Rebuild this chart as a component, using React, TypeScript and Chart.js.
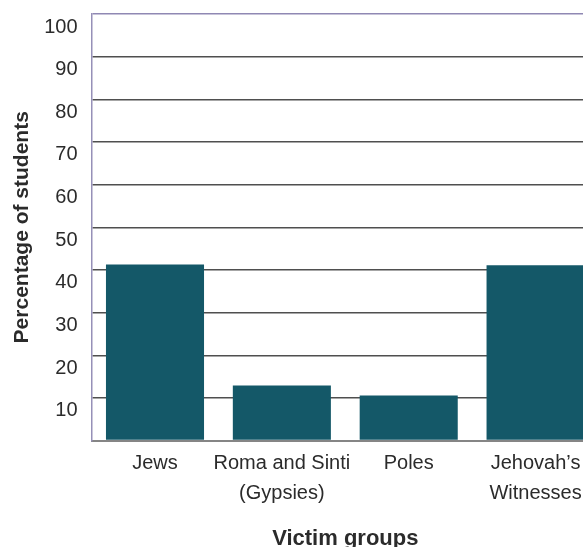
import React, { useEffect, useRef } from "react";
import { Chart, registerables } from "chart.js";

Chart.register(...registerables);

const categories: (string | string[])[] = [
  "Jews",
  ["Roma and Sinti", "(Gypsies)"],
  "Poles",
  ["Jehovah\u2019s", "Witnesses"],
];
const percentages: number[] = [41.3, 12.9, 10.6, 41.1];
const yTickMin = 0;
const yTickMax = 100;
const yTickStep = 10;

const BAR_COLOR = "#145868";
const TEXT_COLOR = "#2b2b2b";
const FONT = "'Liberation Sans', Arial, Helvetica, sans-serif";

export default function App() {
  const ref = useRef<HTMLCanvasElement | null>(null);

  useEffect(() => {
    if (!ref.current) return;
    const chart = new Chart(ref.current, {
      type: "bar",
      data: {
        labels: categories,
        datasets: [
          {
            data: percentages,
            backgroundColor: BAR_COLOR,
            borderWidth: 0,
            barPercentage: 0.773,
            categoryPercentage: 1,
          },
        ],
      },
      options: {
        responsive: false,
        animation: false,
        devicePixelRatio: 1,
        layout: { padding: { top: 14, left: 3, right: 0, bottom: 0 } },
        plugins: {
          legend: { display: false },
          tooltip: { enabled: false },
        },
        scales: {
          x: {
            grid: { display: false, drawTicks: false },
            border: { display: true, color: "#858585", width: 2 },
            ticks: {
              color: TEXT_COLOR,
              padding: 8,
              maxRotation: 0,
              autoSkip: false,
              font: { family: FONT, size: 20, lineHeight: 30 / 20 },
            },
            title: {
              display: true,
              text: "Victim groups",
              color: TEXT_COLOR,
              font: { family: FONT, size: 22, weight: "bold" },
              padding: { top: 9, bottom: 4 },
            },
          },
          y: {
            min: yTickMin,
            max: yTickMax,
            grid: {
              drawTicks: true,
              tickLength: 11,
              tickColor: "rgba(0,0,0,0)",
              lineWidth: 1.5,
              color: (ctx: any) => {
                const v = ctx.tick ? ctx.tick.value : null;
                if (v === 100) return "#8f88b3";
                if (v === 0) return "#858585";
                return "#4f4f4f";
              },
            },
            border: { display: true, color: "#9690b8", width: 1.5 },
            ticks: {
              stepSize: yTickStep,
              color: TEXT_COLOR,
              padding: 3,
              labelOffset: 13,
              font: { family: FONT, size: 20, lineHeight: 1 },
              callback: (v: any) => (v === 0 ? "" : String(v)),
            },
            title: {
              display: true,
              text: "Percentage of students",
              color: TEXT_COLOR,
              font: { family: FONT, size: 21, weight: "bold" },
              padding: { top: 7, bottom: 6 },
            },
          },
        },
      },
    });
    return () => chart.destroy();
  }, []);

  return (
    <div
      style={{
        position: "fixed",
        left: 0,
        top: 0,
        width: 583,
        height: 547,
        overflow: "hidden",
        background: "#fff",
      }}
    >
      <canvas ref={ref} width={599} height={556} style={{ display: "block" }} />
    </div>
  );
}
